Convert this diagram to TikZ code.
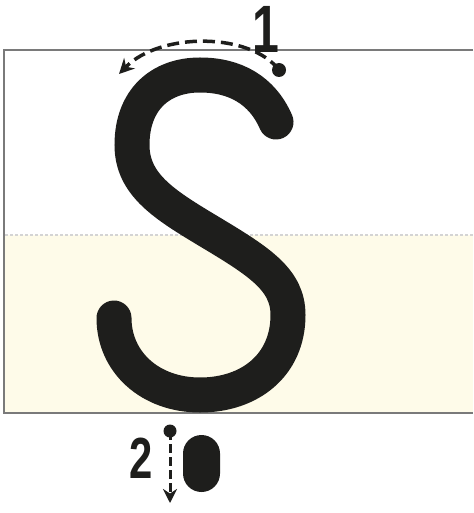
\documentclass[tikz,border=0pt]{standalone}
\usepackage{fontspec}
\usetikzlibrary{arrows.meta}
\newfontfamily\digitfont[FakeStretch=0.72]{Liberation Sans}
\definecolor{inkblack}{HTML}{1E1E1C}
\definecolor{paleyellow}{HTML}{FEFBE9}
\definecolor{framegray}{HTML}{7A7A7A}
\definecolor{guidegray}{HTML}{D4D4D4}
\tikzset{
  letter/.style={draw=inkblack, line width=35pt, line cap=round},
  guidearrow/.style={draw=inkblack, line width=3.5pt, dash pattern=on 12pt off 6pt, -{Stealth[length=15pt,width=15pt]}},
  stepnum/.style={inner sep=0pt, text=inkblack, text depth=0pt},
  startdot/.style={fill=inkblack},
}
\begin{document}
\begin{tikzpicture}[x=1pt,y=-1pt]
    \useasboundingbox (0,0) rectangle (473,513);

    % 书写格
    \fill[paleyellow] (4,235) rectangle (473,413);
    \draw[guidegray, line width=1.2pt, dash pattern=on 3pt off 2pt] (5,235) -- (473,235);
    \draw[framegray, line width=1.5pt] (473,50) -- (4,50) -- (4,413) -- (473,413);

    % 字母 S
    \draw[letter] (276,122) .. controls (262,90) and (235,75) .. (200,75)
        .. controls (160,75) and (132,100) .. (132,145)
        .. controls (132,185) and (165,205) .. (210,232)
        .. controls (260,262) and (288,280) .. (288,315)
        .. controls (288,365) and (250,395) .. (200,395)
        .. controls (150,395) and (114,362) .. (114,318);

    % 第一笔
    \node[stepnum, font=\digitfont\bfseries\fontsize{67pt}{67pt}\selectfont, text height=48pt, anchor=base] (num1) at (266,53) {1};
    \coordinate (start1) at (279,70);
    \coordinate (end1) at (119,74);
    \fill[startdot] (start1) circle (7);
    \draw[guidearrow] (start1) .. controls (250,32) and (160,32) .. (end1);

    % 第二笔
    \node[stepnum, font=\digitfont\bfseries\fontsize{58pt}{58pt}\selectfont, text height=41pt, anchor=base] (num2) at (141,478) {2};
    \coordinate (start2) at (170,431);
    \coordinate (end2) at (170,503);
    \fill[startdot] (start2) circle (6.5);
    \draw[guidearrow, line width=3pt, dash pattern=on 9pt off 4pt, -{Stealth[length=14pt,width=14pt]}] (start2) -- (end2);
    \node[fill=inkblack, rounded corners=18.5pt, minimum width=37pt, minimum height=57pt, inner sep=0pt] (dotmark) at (201.5,463.5) {};
\end{tikzpicture}
\end{document}
